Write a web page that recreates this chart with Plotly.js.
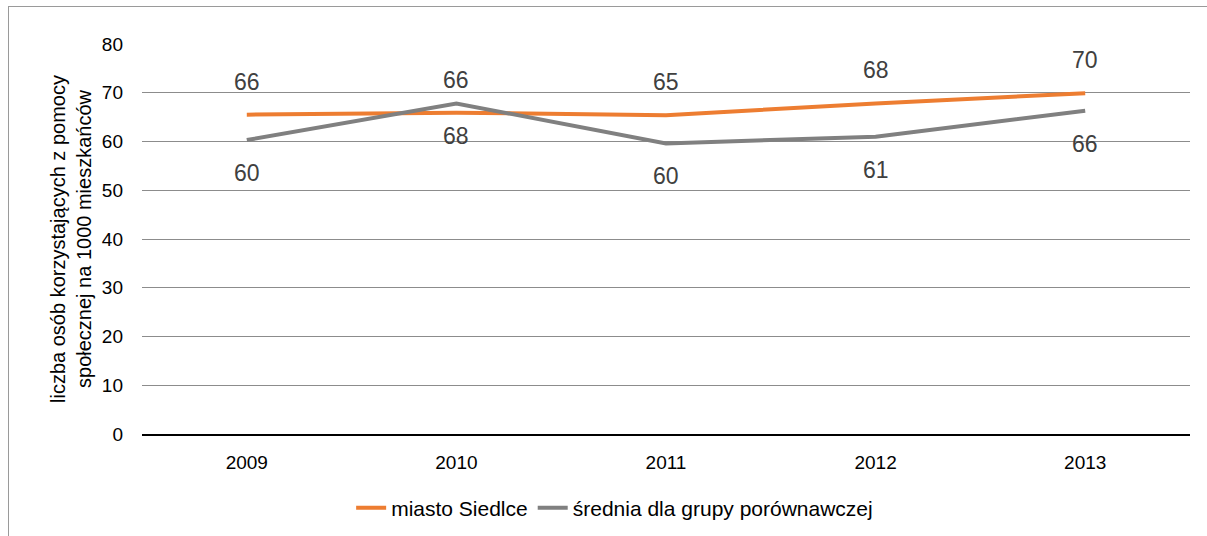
<!DOCTYPE html>
<html>
<head>
<meta charset="utf-8">
<script src="https://cdn.plot.ly/plotly-3.0.1.min.js"></script>
<style>
  body { margin: 0; background: #fff; }
  #frame { position: absolute; left: 8px; top: 6px; width: 1300px; height: 600px; border: 1px solid #9a9a9a; }
  #graph { position: absolute; left: 0; top: 0; width: 1207px; height: 536px; }
</style>
</head>
<body>
<div id="frame"></div>
<div id="graph"></div>
<script>
// lata i wartości
const years = ['2009', '2010', '2011', '2012', '2013']
const siedlce = [65.5, 65.9, 65.4, 67.8, 69.9]
const grupa = [60.3, 67.8, 59.6, 61.0, 66.3]
const siedlceLabels = ['66', '66', '65', '68', '70']
const grupaLabels = ['60', '68', '60', '61', '66']

const font = 'Liberation Sans, Arial, sans-serif'

const graphData = [
    {
        x: years,
        y: siedlce,
        name: 'miasto Siedlce',
        mode: 'lines',
        type: 'scatter',
        line: {color: '#ED7D31', width: 4},
        hoverinfo: 'skip',
    },
    {
        x: years,
        y: grupa,
        name: 'średnia dla grupy porównawczej',
        mode: 'lines',
        type: 'scatter',
        line: {color: '#808080', width: 4},
        hoverinfo: 'skip',
    }
]

// etykiety danych jak w Excelu - odsunięte od linii (x = indeks kategorii)
const annotations = []
years.forEach((yr, i) => {
    annotations.push({x: i, y: siedlce[i], text: siedlceLabels[i], showarrow: false,
        yshift: 33, font: {family: font, size: 23, color: '#404040'}})
    annotations.push({x: i, y: grupa[i], text: grupaLabels[i], showarrow: false,
        yshift: -33, font: {family: font, size: 23, color: '#404040'}})
})

const layout = {
    width: 1207,
    height: 536,
    margin: {l: 142, r: 17, t: 44, b: 102},
    paper_bgcolor: 'rgba(0,0,0,0)',
    plot_bgcolor: 'rgba(0,0,0,0)',
    font: {family: font, size: 19, color: '#000'},
    showlegend: true,
    legend: {
        orientation: 'h',
        x: 0.451,
        xanchor: 'center',
        yref: 'container',
        y: 0.052,
        yanchor: 'middle',
        font: {family: font, size: 21, color: '#000'},
    },
    xaxis: {
        type: 'category',
        range: [-0.5, 4.5],
        autorange: false,
        showgrid: false,
        showline: true,
        linecolor: '#000',
        linewidth: 2,
        ticks: '',
        ticklabelstandoff: 10,
        tickfont: {family: font, size: 19, color: '#000'},
        fixedrange: true,
    },
    yaxis: {
        range: [0, 80],
        autorange: false,
        dtick: 10,
        showgrid: true,
        gridcolor: '#8c8c8c',
        gridwidth: 1,
        zeroline: false,
        showline: false,
        ticks: '',
        ticklabelstandoff: 18,
        tickfont: {family: font, size: 19, color: '#000'},
        title: {
            text: 'liczba osób korzystających z pomocy<br>społecznej na 1000 mieszkańców',
            font: {family: font, size: 20, color: '#000'},
            standoff: 4,
        },
        fixedrange: true,
    },
    annotations: annotations,
}

Plotly.newPlot('graph', graphData, layout, {displayModeBar: false, staticPlot: true})
</script>
</body>
</html>
